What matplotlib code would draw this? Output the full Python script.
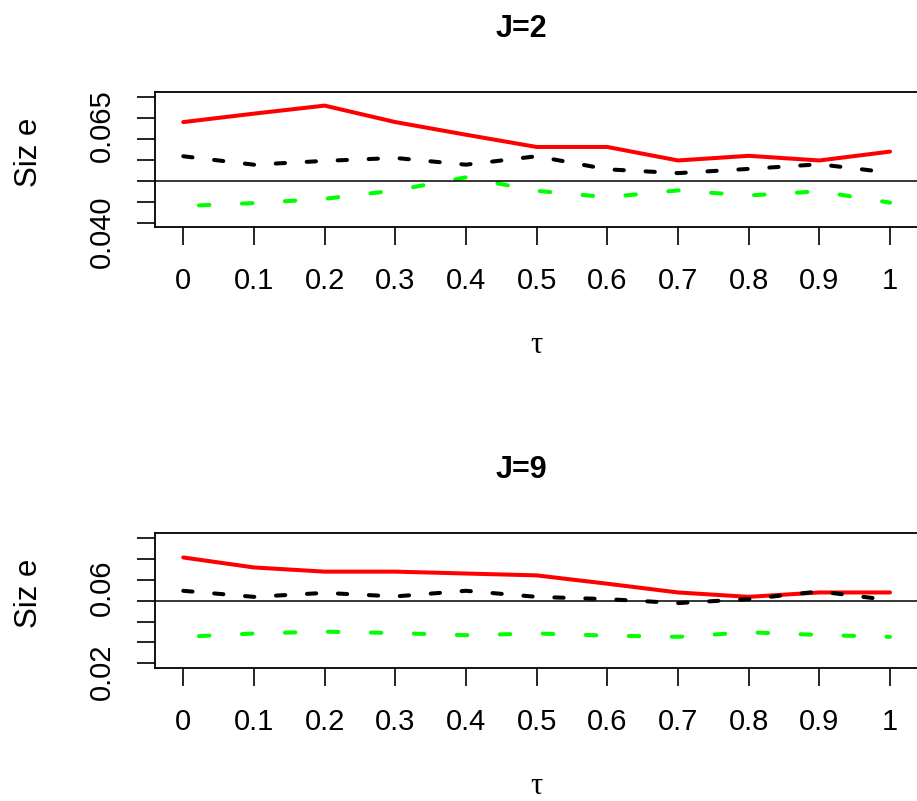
import matplotlib
matplotlib.use("Agg")
import matplotlib.pyplot as plt
from matplotlib.transforms import blended_transform_factory, ScaledTranslation

# tau grid
tau = [0.0, 0.1, 0.2, 0.3, 0.4, 0.5, 0.6, 0.7, 0.8, 0.9, 1.0]

# J=2 panel
j2_red = [0.0640, 0.0660, 0.0679, 0.0640, 0.0610, 0.0581, 0.0581, 0.0549, 0.0560, 0.0549, 0.0570]
j2_black = [0.0559, 0.0539, 0.0548, 0.0555, 0.0539, 0.0559, 0.0528, 0.0519, 0.0529, 0.0540, 0.0520]
j2_green = [0.0441, 0.0448, 0.0458, 0.0478, 0.0509, 0.0477, 0.0462, 0.0478, 0.0466, 0.0476, 0.0449]
j2_yticks = [0.040, 0.045, 0.050, 0.055, 0.060, 0.065, 0.070]
j2_ylabels = {0.040: "0.040", 0.065: "0.065"}

# J=9 panel
j9_red = [0.0708, 0.0660, 0.0640, 0.0640, 0.0631, 0.0622, 0.0582, 0.0540, 0.0519, 0.0540, 0.0540]
j9_black = [0.0548, 0.0519, 0.0538, 0.0521, 0.0548, 0.0519, 0.0508, 0.0489, 0.0508, 0.0545, 0.0503]
j9_green = [0.0327, 0.0343, 0.0352, 0.0345, 0.0335, 0.0343, 0.0333, 0.0327, 0.0349, 0.0336, 0.0327]
j9_yticks = [0.02, 0.03, 0.04, 0.05, 0.06, 0.07, 0.08]
j9_ylabels = {0.02: "0.02", 0.06: "0.06"}

nominal = 0.05

plt.rcParams['font.family'] = ['Liberation Sans', 'DejaVu Sans']
plt.rcParams['lines.scale_dashes'] = False

W, H = 917, 801
DPI = 100


def pt(p):
    # pixels -> points
    return p * 72 / DPI


def box(left, top, right, bottom):
    return [left / W, 1 - bottom / H, (right - left) / W, (bottom - top) / H]


fig = plt.figure(figsize=(W / DPI, H / DPI), dpi=DPI)

panels = [
    ("J=2", j2_red, j2_black, j2_green, j2_yticks, j2_ylabels, (0.0392, 0.0712),
     box(155, 91.7, 918.3, 226.7), 0),
    ("J=9", j9_red, j9_black, j9_green, j9_yticks, j9_ylabels, (0.0176, 0.0824),
     box(155, 533.3, 918.3, 668.3), 441),
]

for title, red, black, green, yticks, ylabels, ylim, rect, dy in panels:
    ax = fig.add_axes(rect)
    ax.plot(tau, red, color='#ff0000', lw=2.9, solid_joinstyle='round', solid_capstyle='round')
    ax.plot(tau, black, color='black', lw=2.9,
            linestyle=(0, (pt(9.3), pt(21.7))), dash_capstyle='round')
    ax.plot(tau, green, color='#00ff00', lw=2.9,
            linestyle=(pt(27.3), (pt(10.5), pt(32.5))), dash_capstyle='round')
    ax.axhline(nominal, color='black', lw=1.1)

    ax.set_xlim(-0.04, 1.04)
    ax.set_ylim(*ylim)
    ax.set_xticks(tau)
    ax.set_xticklabels([f"{t:g}" for t in tau])
    ax.set_yticks(yticks)
    ax.set_yticklabels([])
    ax.tick_params(direction='out', length=13, width=1.2, labelsize=21, pad=15.8)
    for s in ax.spines.values():
        s.set_linewidth(1.3)

    # y labels drawn parallel to the axis, only where they fit
    trans = blended_transform_factory(ax.transAxes, ax.transData) + \
        ScaledTranslation(-45 / DPI, -8 / DPI, fig.dpi_scale_trans)
    for v, lab in ylabels.items():
        ax.text(0, v, lab, transform=trans, rotation=90, rotation_mode='anchor',
                ha='center', va='baseline', fontsize=21)

    fig.text(521.5 / W, 1 - (36.7 + dy) / H, title, ha='center', va='baseline',
             fontsize=22, fontweight='bold')
    fig.text(536.5 / W, 1 - (353 + dy) / H, "τ", ha='center', va='baseline',
             fontsize=22, family=['Liberation Serif', 'DejaVu Serif'])
    fig.text(36.7 / W, 1 - (152.5 + dy) / H, "Siz e", rotation=90,
             rotation_mode='anchor', ha='center', va='baseline', fontsize=22.5)

fig.savefig('out.png', dpi=DPI)
